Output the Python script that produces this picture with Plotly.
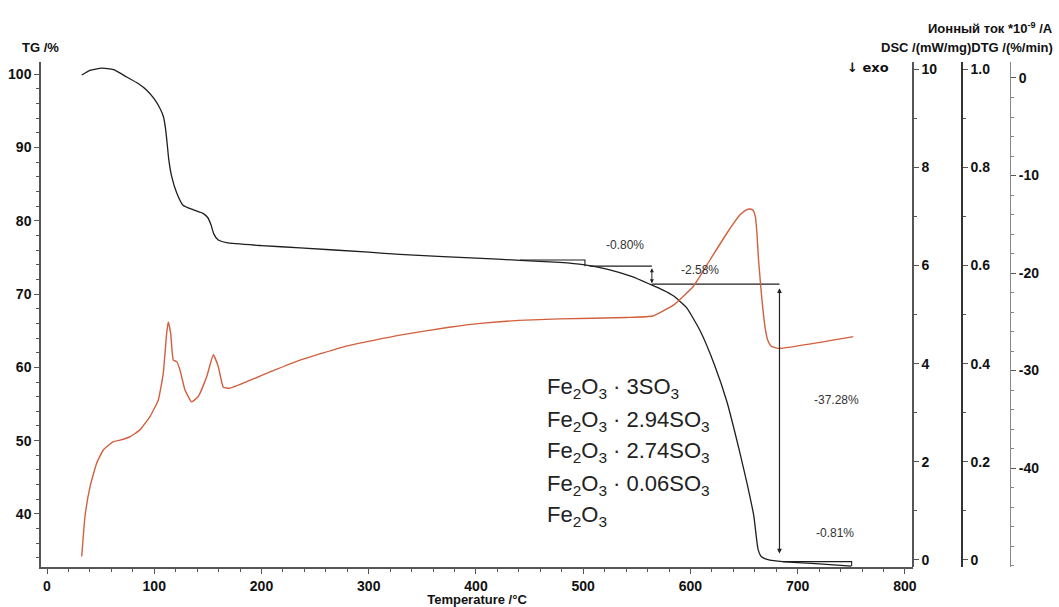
import plotly.graph_objects as go

# ---------------- data ----------------
tg_temp = [32.4, 40, 51, 62, 74.3, 85, 93, 100, 105.4, 108.5, 110.5, 112, 113.5, 116.3, 120.9,
           126.8, 136.1, 145.5, 150, 153, 155.5, 159.4, 167.5, 200, 236, 300, 329, 400, 441,
           478, 500, 522, 545, 562, 575, 584, 596, 609, 622, 634, 646, 653, 659, 663,
           666, 674, 686, 720, 750]
tg_val = [99.86, 100.5, 100.8, 100.6, 99.6, 98.7, 97.8, 96.6, 95.3, 94.2, 92.6, 90.6, 88.4, 86.0,
          83.8, 82.1, 81.5, 81.0, 80.4, 79.4, 78.2, 77.4, 77.0, 76.6, 76.3, 75.7, 75.4, 74.9, 74.6,
          74.3, 74.0, 73.4, 72.4, 71.35, 70.5, 69.75, 68.2, 65.0, 60.5, 55.3, 48.4, 44.0,
          39.8, 35.2, 34.2, 33.7, 33.5, 33.2, 32.9]

dsc_temp = [32.4, 35.4, 40.1, 46.3, 52.5, 61.8, 68, 77.4, 86.7, 96, 103.8, 108.4, 111.6,
            113.1, 115.3, 117.8, 120.9, 124, 128.7, 134.9, 141.1, 148.9, 155.1, 159.7,
            164.4, 170.6, 207.9, 236, 280, 329, 375, 404, 440, 478, 540, 565, 584, 602.6,
            618.2, 633.8, 646.2, 652, 655.5, 658.5, 660.5, 662, 663.5, 666.4, 669.5, 672,
            675, 681.9, 751.8]
dsc_val = [0.007, 0.088, 0.149, 0.197, 0.224, 0.241, 0.244, 0.251, 0.265, 0.292, 0.326,
           0.380, 0.462, 0.485, 0.462, 0.407, 0.404, 0.387, 0.346, 0.322, 0.333, 0.373,
           0.418, 0.394, 0.352, 0.350, 0.383, 0.407, 0.436, 0.458, 0.474, 0.482, 0.488,
           0.491, 0.494, 0.497, 0.519, 0.557, 0.611, 0.665, 0.703, 0.713, 0.715, 0.712,
           0.700, 0.665, 0.610, 0.536, 0.475, 0.448, 0.436, 0.431, 0.455]

# mass-loss step markers (temperature, TG)
step_temp = [441, 501.6, 501.6, None, 506, 564, None, 564, 683, None, 686, 750.3, 750.3]
step_tg = [74.63, 74.63, 73.8, None, 73.8, 73.8, None, 71.35, 71.35, None, 33.5, 33.5, 32.9]

loss_labels = ["-0.80%", "-2.58%", "-37.28%", "-0.81%"]
loss_temp = [539, 609, 736, 735]
loss_tg = [76.7, 73.3, 55.5, 37.4]

formulas = ["Fe<sub>2</sub>O<sub>3</sub> · 3SO<sub>3</sub>",
            "Fe<sub>2</sub>O<sub>3</sub> · 2.94SO<sub>3</sub>",
            "Fe<sub>2</sub>O<sub>3</sub> · 2.74SO<sub>3</sub>",
            "Fe<sub>2</sub>O<sub>3</sub> · 0.06SO<sub>3</sub>",
            "Fe<sub>2</sub>O<sub>3</sub>"]
formula_tg = [57.2, 52.7, 48.5, 44.0, 39.7]

x_ticks = [0, 100, 200, 300, 400, 500, 600, 700, 800]
tg_ticks = [40, 50, 60, 70, 80, 90, 100]
ion_ticks = [0, 2, 4, 6, 8, 10]
dsc_ticks = [0, 0.2, 0.4, 0.6, 0.8, 1.0]
dsc_ticktext = ["0", "0.2", "0.4", "0.6", "0.8", "1.0"]
dtg_ticks = [0, -10, -20, -30, -40]
dtg_ticktext = ["0", "-10", "-20", "-30", "-40"]

# ---------------- figure ----------------
FONT = "Liberation Sans, Arial, sans-serif"
AX = "#555555"
tickfont = dict(family=FONT, size=14, color="#111", weight="bold")

fig = go.Figure()
fig.add_trace(go.Scatter(x=tg_temp, y=tg_val, mode="lines", yaxis="y",
                         line=dict(color="#1e1e1e", width=1.3, shape="spline", smoothing=0.5),
                         showlegend=False, hoverinfo="skip"))
fig.add_trace(go.Scatter(x=dsc_temp, y=dsc_val, mode="lines", yaxis="y3",
                         line=dict(color="#d2603e", width=1.4, shape="spline", smoothing=0.4),
                         showlegend=False, hoverinfo="skip"))
fig.add_trace(go.Scatter(x=step_temp, y=step_tg, mode="lines", yaxis="y",
                         line=dict(color="#1e1e1e", width=1.1), connectgaps=False,
                         showlegend=False, hoverinfo="skip"))
fig.add_trace(go.Scatter(x=[None], y=[None], yaxis="y2", showlegend=False))
fig.add_trace(go.Scatter(x=[None], y=[None], yaxis="y4", showlegend=False))

xdom_end = (913 - 41) / 1018

def yax(**kw):
    base = dict(showline=True, linecolor=AX, linewidth=1.5, ticks="outside", ticklen=5,
                tickcolor=AX, showgrid=False, zeroline=False, tickfont=tickfont,
                automargin=False, fixedrange=True)
    base.update(kw)
    return base

fig.update_layout(
    width=1059, height=607,
    margin=dict(l=41, r=0, t=62, b=40),
    paper_bgcolor="white", plot_bgcolor="white",
    xaxis=dict(domain=[0, xdom_end], range=[-5.59, 807.5], showline=True, linecolor=AX,
               linewidth=1.5, ticks="outside", ticklen=5, tickcolor=AX, tickvals=x_ticks,
               minor=dict(dtick=20, ticklen=3, tickcolor=AX, ticks="outside"),
               showgrid=False, zeroline=False, tickfont=tickfont, automargin=False,
               title=dict(text="Temperature /°C", standoff=0,
                          font=dict(family=FONT, size=13, color="#111", weight="bold"))),
    yaxis=yax(range=[32.77, 101.64], tickvals=tg_ticks, side="left",
              minor=dict(dtick=2, ticklen=3, tickcolor=AX, ticks="outside")),
    yaxis2=yax(range=[-0.143, 10.143], tickvals=ion_ticks, overlaying="y", side="right",
               anchor="free", position=xdom_end,
               minor=dict(dtick=1, ticklen=3, tickcolor=AX, ticks="outside")),
    yaxis3=yax(range=[-0.0143, 1.0143], tickvals=dsc_ticks, ticktext=dsc_ticktext,
               overlaying="y", side="right", anchor="free", position=(962 - 41) / 1018,
               linecolor="#333",
               minor=dict(dtick=0.1, ticklen=3, tickcolor=AX, ticks="outside")),
    yaxis4=yax(range=[-50.15, 1.64], tickvals=dtg_ticks, ticktext=dtg_ticktext,
               overlaying="y", side="right", anchor="free", position=(1010 - 41) / 1018,
               linecolor="#888", linewidth=1,
               minor=dict(dtick=2, ticklen=3, tickcolor="#888", ticks="outside")),
)

ann = []
for t, xv, yv in zip(loss_labels, loss_temp, loss_tg):
    ann.append(dict(x=xv, y=yv, xref="x", yref="y", text=t, showarrow=False,
                    font=dict(family=FONT, size=12, color="#333")))
for t, yv in zip(formulas, formula_tg):
    ann.append(dict(x=464, y=yv, xref="x", yref="y", text=t, showarrow=False,
                    xanchor="left", font=dict(family=FONT, size=22, color="#222")))
# double arrows
ann.append(dict(x=564, y=71.45, ax=564, ay=73.7, xref="x", yref="y", axref="x", ayref="y",
                text="", showarrow=True, arrowhead=2, arrowside="end+start", arrowsize=0.8,
                arrowwidth=1, arrowcolor="#222"))
ann.append(dict(x=683, y=34.6, ax=683, ay=71.0, xref="x", yref="y", axref="x", ayref="y",
                text="", showarrow=True, arrowhead=2, arrowside="end+start", arrowsize=0.8,
                arrowwidth=1.2, arrowcolor="#222"))
# axis titles
hdr = dict(family=FONT, size=13, color="#111", weight="bold")
ann.append(dict(x=-21 / 1018, y=1 + 24 / 505, xref="paper", yref="paper", text="TG /%",
                showarrow=False, xanchor="left", font=hdr))
ann.append(dict(x=(1055 - 41) / 1018, y=1 + 44 / 505, xref="paper", yref="paper",
                text="Ионный ток *10<sup>-9</sup> /A", showarrow=False, xanchor="right", font=hdr))
ann.append(dict(x=(1055 - 41) / 1018, y=1 + 24 / 505, xref="paper", yref="paper",
                text="DSC /(mW/mg)DTG /(%/min)", showarrow=False, xanchor="right", font=hdr))
ann.append(dict(x=(891 - 41) / 1018, y=1 + 4 / 505, xref="paper", yref="paper",
                text="<b>↓</b> exo", showarrow=False, xanchor="right",
                font=dict(family="DejaVu Sans, Liberation Sans", size=13, color="#111",
                          weight="bold")))
fig.update_layout(annotations=ann)

fig.write_html("out.html")
